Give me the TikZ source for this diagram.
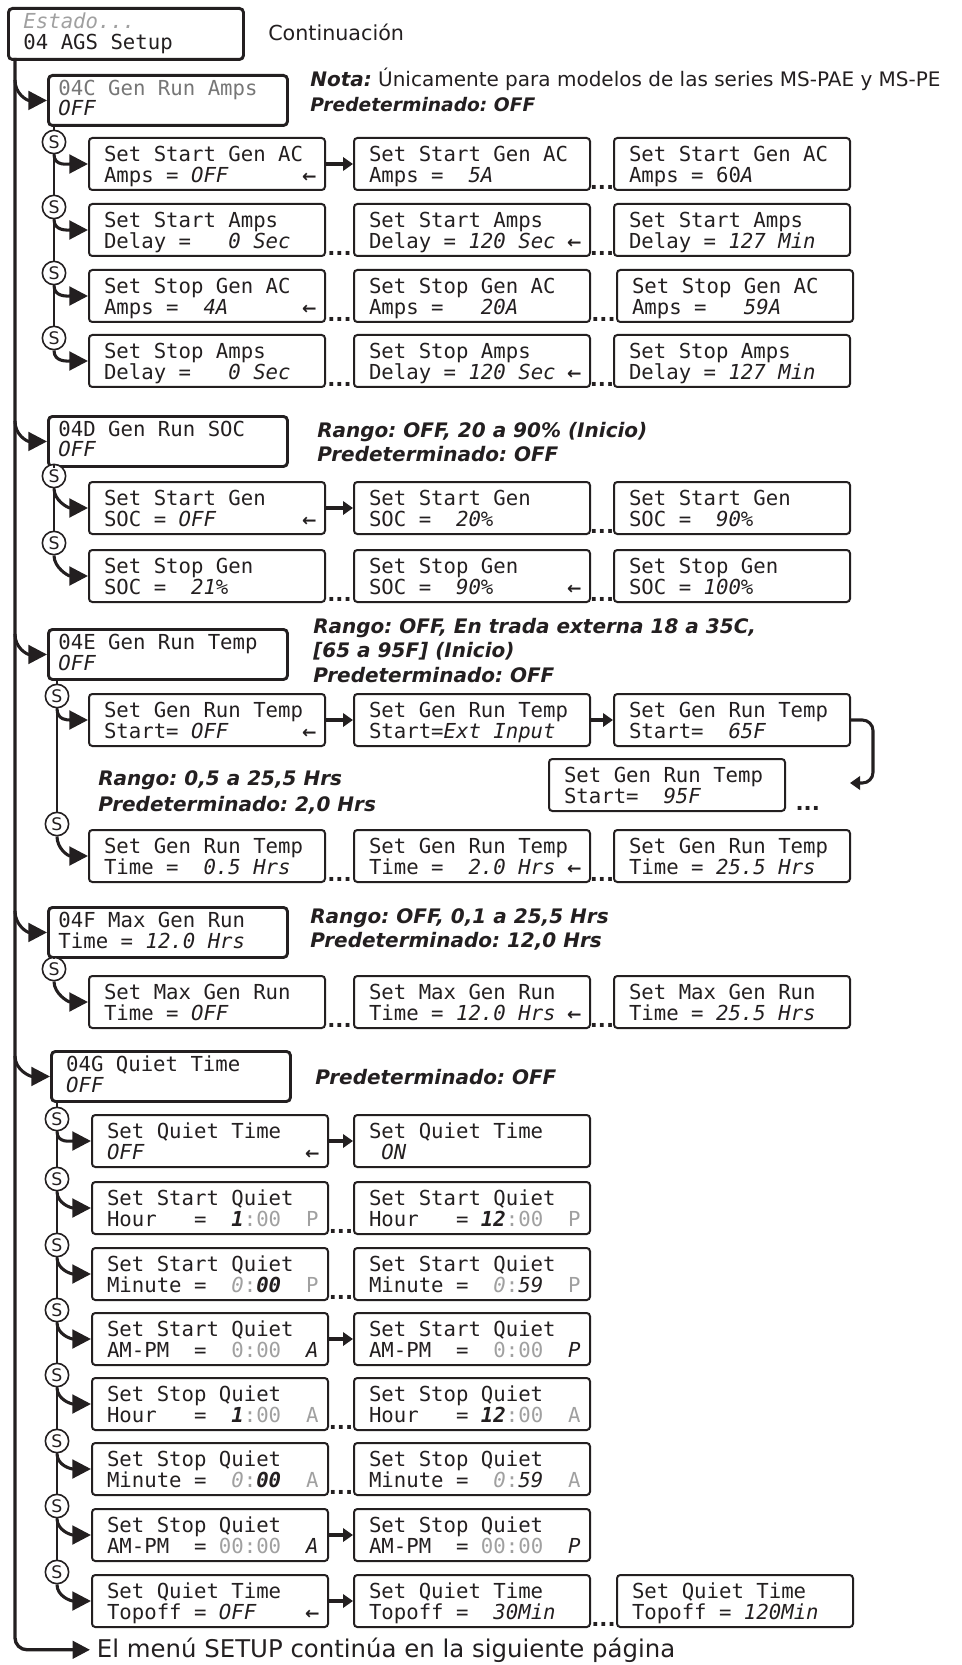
\documentclass[tikz,border=0pt]{standalone}
\usepackage{fontspec}
\setmainfont{DejaVu Sans}
\setmonofont{DejaVu Sans Mono}
\usetikzlibrary{arrows.meta,calc}
\definecolor{lcdgrey}{HTML}{A0A0A0}
\definecolor{titlegrey}{HTML}{767676}
\definecolor{ink}{HTML}{231F20}
\frenchspacing
\newcommand\fixsp{\fontdimen2\font=0.602em\fontdimen3\font=0pt\fontdimen4\font=0pt\relax}
\newcommand\boxfont{\ttfamily\fontsize{15.5pt}{15.4pt}\selectfont\fixsp}
\newcommand\notefont{\rmfamily\fontsize{15pt}{18pt}\selectfont}
\newcommand\tS{\rule{0pt}{16.8pt}}
\newcommand\bS{\rule[-4.8pt]{0pt}{4.8pt}}
\newcommand\tG{\rule{0pt}{14pt}}
\newcommand\bG{\rule[-6.1pt]{0pt}{6.1pt}}
\newcommand\gr[1]{\textcolor{lcdgrey}{#1}}
\newcommand\bi[1]{\textbf{\textit{#1}}}
\newcommand\ti[1]{{\itshape\fixsp #1}}
\newcommand\tbi[1]{{\bfseries\itshape\fixsp #1}}
\newcommand\larr{\hfill\makebox[0pt][r]{\rmfamily\bfseries\fontsize{13pt}{13pt}\selectfont ←\kern-5pt}}
\newcommand\gapdots[2]{\node[dotsn] at ($(#1.south east)!0.5!(#2.south west)$) {...};}
\begin{document}
\begin{tikzpicture}[x=0.75pt,y=-0.75pt,
  lcd/.style={align=flush left, font=\boxfont, text=ink, inner ysep=0pt, anchor=north west,
    execute at begin node={\spaceskip=0pt\xspaceskip=0pt\relax}},
  topbox/.style={lcd, draw=ink, line width=2.2pt, rounded corners=3pt, minimum height=38.25pt, text width=153.75pt, inner xsep=11.25pt},
  gbox/.style={lcd, draw=ink, line width=2.2pt, rounded corners=3pt, minimum height=37.5pt, text width=164.25pt, inner xsep=7.5pt},
  sbox/.style={lcd, draw=ink, line width=1.5pt, rounded corners=2.5pt, minimum height=39pt, text width=154.5pt, inner xsep=11.25pt},
  scirc/.style={circle, draw=ink, fill=white, line width=1.2pt, minimum size=17.5pt, inner sep=0pt, font=\rmfamily\fontsize{13pt}{13pt}\selectfont, text=ink},
  notetxt/.style={anchor=base west, inner sep=0pt, font=\notefont, text=ink},
  mainline/.style={draw=ink, line width=2.5pt},
  subline/.style={draw=ink, line width=2.2pt},
  brarr/.style={draw=ink, line width=2.3pt, -{Triangle[length=14pt,width=14pt]}},
  carr/.style={draw=ink, line width=2.3pt, -{Triangle[length=7.5pt,width=10pt]}},
  dotsn/.style={anchor=base, inner sep=0pt, yshift=1.2pt, font=\rmfamily\bfseries\fontsize{16pt}{16pt}\selectfont, text=ink}
]
\useasboundingbox (0,0) rectangle (962,1665);

% ---------- top ----------
\node[topbox] (top) at (7,7) {\tG\gr{\textit{Estado...}}\\04 AGS Setup\bG};
\node[notetxt, font=\rmfamily\fontsize{15.5pt}{18pt}\selectfont] (cont) at (268,41) {Continuación};

% ---------- group boxes ----------
\node[gbox] (gC) at (47,74) {\tG\textcolor{titlegrey}{04C Gen Run Amps}\\\ti{OFF}\bG};
\node[gbox] (gD) at (47,415) {\tG 04D Gen Run SOC\\\ti{OFF}\bG};
\node[gbox] (gE) at (47,628) {\tG 04E Gen Run Temp\\\ti{OFF}\bG};
\node[gbox] (gF) at (47,906) {\tG 04F Max Gen Run\\Time = \ti{12.0 Hrs}\bG};
\node[gbox, inner xsep=11pt, text width=157.25pt] (gG) at (50,1050) {\tG 04G Quiet Time\\\ti{OFF}\bG};

% ---------- notes ----------
\node[notetxt] (nC1) at (310,87) {\bi{Nota:} Únicamente para modelos de las series MS-PAE y MS-PE};
\node[notetxt, font=\rmfamily\fontsize{14pt}{18pt}\selectfont] (nC2) at (310,112) {\bi{Predeterminado: OFF}};
\node[notetxt] (nD1) at (317,437) {\bi{Rango: OFF, 20 a 90\% (Inicio)}};
\node[notetxt] (nD2) at (317,461) {\bi{Predeterminado: OFF}};
\node[notetxt] (nE1) at (313,633) {\bi{Rango: OFF, En trada externa 18 a 35C,}};
\node[notetxt] (nE2) at (313,657) {\bi{[65 a 95F] (Inicio)}};
\node[notetxt] (nE3) at (313,682) {\bi{Predeterminado: OFF}};
\node[notetxt] (nT1) at (98,785) {\bi{Rango: 0,5 a 25,5 Hrs}};
\node[notetxt] (nT2) at (98,811) {\bi{Predeterminado: 2,0 Hrs}};
\node[notetxt] (nF1) at (310,923) {\bi{Rango: OFF, 0,1 a 25,5 Hrs}};
\node[notetxt] (nF2) at (310,947) {\bi{Predeterminado: 12,0 Hrs}};
\node[notetxt] (nG1) at (315,1084) {\bi{Predeterminado: OFF}};
\node[notetxt, inner xsep=5pt, font=\rmfamily\fontsize{18.3pt}{20pt}\selectfont] (bottom) at (90,1657) {El menú SETUP continúa en la siguiente página};

% ---------- group C rows ----------
\node[sbox] (c11) at (88,137) {\tS Set Start Gen AC\\Amps = \ti{OFF}\larr\bS};
\node[sbox] (c12) at (353,137) {\tS Set Start Gen AC\\Amps =~~\ti{5A}\bS};
\node[sbox] (c13) at (613,137) {\tS Set Start Gen AC\\Amps = 60\ti{A}\bS};
\node[sbox] (c21) at (88,203) {\tS Set Start Amps\\Delay =~~~\ti{0~Sec}\bS};
\node[sbox] (c22) at (353,203) {\tS Set Start Amps\\Delay = \ti{120~Sec}\larr\bS};
\node[sbox] (c23) at (613,203) {\tS Set Start Amps\\Delay = \ti{127~Min}\bS};
\node[sbox] (c31) at (88,269) {\tS Set Stop Gen AC\\Amps =~~\ti{4A}\larr\bS};
\node[sbox] (c32) at (353,269) {\tS Set Stop Gen AC\\Amps =~~~\ti{20A}\bS};
\node[sbox] (c33) at (616,269) {\tS Set Stop Gen AC\\Amps =~~~\ti{59A}\bS};
\node[sbox] (c41) at (88,334) {\tS Set Stop Amps\\Delay =~~~\ti{0~Sec}\bS};
\node[sbox] (c42) at (353,334) {\tS Set Stop Amps\\Delay = \ti{120~Sec}\larr\bS};
\node[sbox] (c43) at (613,334) {\tS Set Stop Amps\\Delay = \ti{127~Min}\bS};

% ---------- group D rows ----------
\node[sbox] (d11) at (88,481) {\tS Set Start Gen\\SOC = \ti{OFF}\larr\bS};
\node[sbox] (d12) at (353,481) {\tS Set Start Gen\\SOC =~~\ti{20\%}\bS};
\node[sbox] (d13) at (613,481) {\tS Set Start Gen\\SOC =~~\ti{90\%}\bS};
\node[sbox] (d21) at (88,549) {\tS Set Stop Gen\\SOC =~~\ti{21\%}\bS};
\node[sbox] (d22) at (353,549) {\tS Set Stop Gen\\SOC =~~\ti{90\%}\larr\bS};
\node[sbox] (d23) at (613,549) {\tS Set Stop Gen\\SOC = \ti{100\%}\bS};

% ---------- group E rows ----------
\node[sbox] (e11) at (88,693) {\tS Set Gen Run Temp\\Start= \ti{OFF}\larr\bS};
\node[sbox] (e12) at (353,693) {\tS Set Gen Run Temp\\Start=\ti{Ext~Input}\bS};
\node[sbox] (e13) at (613,693) {\tS Set Gen Run Temp\\Start=~~\ti{65F}\bS};
\node[sbox] (e14) at (548,758) {\tS Set Gen Run Temp\\Start=~~\ti{95F}\bS};
\node[sbox] (e21) at (88,829) {\tS Set Gen Run Temp\\Time =~~\ti{0.5~Hrs}\bS};
\node[sbox] (e22) at (353,829) {\tS Set Gen Run Temp\\Time =~~\ti{2.0~Hrs}\larr\bS};
\node[sbox] (e23) at (613,829) {\tS Set Gen Run Temp\\Time = \ti{25.5~Hrs}\bS};

% ---------- group F rows ----------
\node[sbox] (f11) at (88,975) {\tS Set Max Gen Run\\Time = \ti{OFF}\bS};
\node[sbox] (f12) at (353,975) {\tS Set Max Gen Run\\Time = \ti{12.0~Hrs}\larr\bS};
\node[sbox] (f13) at (613,975) {\tS Set Max Gen Run\\Time = \ti{25.5~Hrs}\bS};

% ---------- group G rows ----------
\node[sbox] (g11) at (91,1114) {\tS Set Quiet Time\\\ti{OFF}\larr\bS};
\node[sbox] (g12) at (353,1114) {\tS Set Quiet Time\\~\ti{ON}\bS};
\node[sbox] (g21) at (91,1181) {\tS Set Start Quiet\\\mbox{Hour~~~=~~\tbi{1}\gr{:00}~~\gr{P}}\bS};
\node[sbox] (g22) at (353,1181) {\tS Set Start Quiet\\\mbox{Hour~~~=~\tbi{12}\gr{:00}~~\gr{P}}\bS};
\node[sbox] (g31) at (91,1247) {\tS Set Start Quiet\\\mbox{Minute~=~~\gr{\ti{0}:}\tbi{00}~~\gr{P}}\bS};
\node[sbox] (g32) at (353,1247) {\tS Set Start Quiet\\\mbox{Minute~=~~\gr{\ti{0}:}\ti{59}~~\gr{P}}\bS};
\node[sbox] (g41) at (91,1312) {\tS Set Start Quiet\\\mbox{AM-PM~~=~~\gr{0:00}~~\ti{A}}\bS};
\node[sbox] (g42) at (353,1312) {\tS Set Start Quiet\\\mbox{AM-PM~~=~~\gr{0:00}~~\ti{P}}\bS};
\node[sbox] (g51) at (91,1377) {\tS Set Stop Quiet\\\mbox{Hour~~~=~~\tbi{1}\gr{:00}~~\gr{A}}\bS};
\node[sbox] (g52) at (353,1377) {\tS Set Stop Quiet\\\mbox{Hour~~~=~\tbi{12}\gr{:00}~~\gr{A}}\bS};
\node[sbox] (g61) at (91,1442) {\tS Set Stop Quiet\\\mbox{Minute~=~~\gr{\ti{0}:}\tbi{00}~~\gr{A}}\bS};
\node[sbox] (g62) at (353,1442) {\tS Set Stop Quiet\\\mbox{Minute~=~~\gr{\ti{0}:}\ti{59}~~\gr{A}}\bS};
\node[sbox] (g71) at (91,1508) {\tS Set Stop Quiet\\\mbox{AM-PM~~=~\gr{00:00}~~\ti{A}}\bS};
\node[sbox] (g72) at (353,1508) {\tS Set Stop Quiet\\\mbox{AM-PM~~=~\gr{00:00}~~\ti{P}}\bS};
\node[sbox] (g81) at (91,1574) {\tS Set Quiet Time\\Topoff = \ti{OFF}\larr\bS};
\node[sbox] (g82) at (353,1574) {\tS Set Quiet Time\\Topoff =~~\ti{30Min}\bS};
\node[sbox] (g83) at (616,1574) {\tS Set Quiet Time\\Topoff = \ti{120Min}\bS};

% ---------- main line ----------
\coordinate (m0) at (15,58);
\coordinate (mC) at (15,80);
\coordinate (mD) at (15,421);
\coordinate (mE) at (15,634);
\coordinate (mF) at (15,911);
\coordinate (mG) at (15,1056);
\draw[mainline, rounded corners=9pt, -{Triangle[length=13pt,width=13pt]}] (m0) |- (bottom.west);
\draw[brarr] (mC) .. controls +(0,14) and +(-20,0) .. (gC.west);
\draw[brarr] (mD) .. controls +(0,14) and +(-20,0) .. (gD.west);
\draw[brarr] (mE) .. controls +(0,14) and +(-20,0) .. (gE.west);
\draw[brarr] (mF) .. controls +(0,14) and +(-20,0) .. (gF.west);
\draw[brarr] (mG) .. controls +(0,14) and +(-20,0) .. (gG.west);

% ---------- S circles ----------
\node[scirc] (sC1) at (54,142) {S};
\node[scirc] (sC2) at (54,207) {S};
\node[scirc] (sC3) at (54,273) {S};
\node[scirc] (sC4) at (54,338) {S};
\node[scirc] (sD1) at (54,476) {S};
\node[scirc] (sD2) at (54,543) {S};
\node[scirc] (sE1) at (57,696) {S};
\node[scirc] (sE2) at (57,824) {S};
\node[scirc] (sF1) at (54,969) {S};
\node[scirc] (sG1) at (57,1119) {S};
\node[scirc] (sG2) at (57,1179) {S};
\node[scirc] (sG3) at (57,1245) {S};
\node[scirc] (sG4) at (57,1310) {S};
\node[scirc] (sG5) at (57,1375) {S};
\node[scirc] (sG6) at (57,1441) {S};
\node[scirc] (sG7) at (57,1506) {S};
\node[scirc] (sG8) at (57,1572) {S};

% sub lines
\draw[subline] (gC.south -| sC1) -- (sC1.north) (sC1.south) -- (sC2.north) (sC2.south) -- (sC3.north) (sC3.south) -- (sC4.north);
\draw[subline] (gD.south -| sD1) -- (sD1.north) (sD1.south) -- (sD2.north);
\draw[subline] (gE.south -| sE1) -- (sE1.north) (sE1.south) -- (sE2.north);
\draw[subline] (gF.south -| sF1) -- (sF1.north);
\draw[subline] (gG.south -| sG1) -- (sG1.north) (sG1.south) -- (sG2.north) (sG2.south) -- (sG3.north) (sG3.south) -- (sG4.north) (sG4.south) -- (sG5.north) (sG5.south) -- (sG6.north) (sG6.south) -- (sG7.north) (sG7.south) -- (sG8.north);

% S arrows
\foreach \s/\b in {sC1/c11, sC2/c21, sC3/c31, sC4/c41, sD1/d11, sD2/d21, sE1/e11, sE2/e21, sF1/f11, sG1/g11, sG2/g21, sG3/g31, sG4/g41, sG5/g51, sG6/g61, sG7/g71, sG8/g81}
  \draw[brarr] (\s.south) .. controls +(0,12) and +(-20,0) .. (\b.west);

% ---------- row connectors ----------
\draw[carr] (c11.east) -- (c12.west);
\draw[carr] (d11.east) -- (d12.west);
\draw[carr] (e11.east) -- (e12.west);
\draw[carr] (e12.east) -- (e13.west);
\draw[carr] (g11.east) -- (g12.west);
\draw[carr] (g41.east) -- (g42.west);
\draw[carr] (g71.east) -- (g72.west);
\draw[carr] (g81.east) -- (g82.west);
\coordinate (eturn) at (873,751);
\coordinate (etip) at (850,783);
\draw[carr, rounded corners=8pt] (e13.east) -| (eturn) |- (etip);

\gapdots{c12}{c13}
\gapdots{c21}{c22}\gapdots{c22}{c23}
\gapdots{c31}{c32}\gapdots{c32}{c33}
\gapdots{c41}{c42}\gapdots{c42}{c43}
\gapdots{d12}{d13}
\gapdots{d21}{d22}\gapdots{d22}{d23}
\gapdots{e21}{e22}\gapdots{e22}{e23}
\gapdots{f11}{f12}\gapdots{f12}{f13}
\gapdots{g21}{g22}
\gapdots{g31}{g32}
\gapdots{g51}{g52}
\gapdots{g61}{g62}
\gapdots{g82}{g83}
\node[dotsn, anchor=base west] (e14dots) at ([xshift=7pt]e14.south east) {...};
\end{tikzpicture}
\end{document}
